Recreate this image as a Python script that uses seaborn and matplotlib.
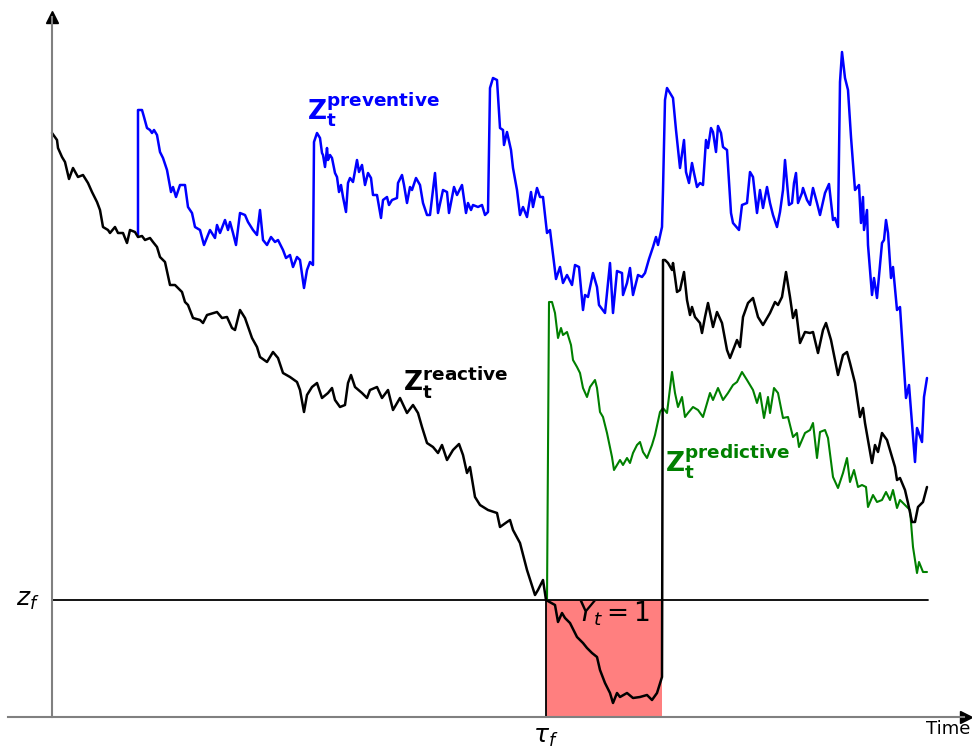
import numpy as np
import pandas as pd
import matplotlib
matplotlib.use('Agg')
import matplotlib.pyplot as plt
import seaborn as sns

# Paths (time, value); z_f threshold and tau_f
Z_F = 117
TAU_F = 494
T_JUMP = 610
T_END = 876

reactive_t = [0, 5, 6, 10, 13, 17, 21, 26, 31, 36, 40, 45, 48, 51, 56, 58, 63, 66, 71, 75,
              78, 83, 86, 90, 93, 98, 101, 105, 108, 113, 118, 123, 130, 133, 136, 141, 148, 151, 155, 165,
              170, 175, 180, 183, 188, 193, 200, 205, 208, 215, 221, 226, 231, 238, 245, 248, 252, 255, 260, 265,
              270, 276, 280, 283, 288, 293, 296, 299, 303, 310, 315, 318, 325, 330, 336, 341, 348, 355, 361, 366,
              370, 375, 381, 386, 390, 395, 401, 407, 411, 415, 418, 423, 428, 436, 445, 448, 455, 458, 461, 468,
              475, 483, 486, 491, 494, 503, 506, 510, 513, 518, 525, 531, 535, 540, 545, 548, 553, 558, 561, 565,
              568, 575, 581, 588, 595, 600, 605, 609, 610, 611, 613, 616, 620, 621, 623, 625, 628, 632, 635, 638,
              640, 643, 648, 650, 653, 656, 661, 665, 670, 675, 678, 685, 688, 691, 696, 701, 706, 711, 718, 723,
              726, 730, 734, 738, 741, 744, 748, 753, 758, 761, 766, 771, 774, 779, 786, 791, 795, 798, 803, 808,
              811, 813, 820, 823, 826, 830, 835, 840, 843, 845, 848, 853, 856, 860, 863, 866, 871, 875]
reactive_v = [584, 577, 569, 560, 555, 538, 549, 540, 542, 534, 525, 515, 507, 490, 487, 484, 490, 484, 484, 474,
              487, 485, 480, 481, 477, 479, 475, 470, 460, 455, 432, 432, 425, 415, 412, 399, 397, 394, 402, 405,
              399, 400, 389, 387, 407, 399, 379, 370, 360, 355, 365, 359, 344, 340, 335, 327, 305, 322, 330, 334,
              319, 324, 329, 317, 310, 312, 334, 342, 330, 324, 319, 327, 330, 319, 327, 307, 319, 304, 312, 304,
              290, 274, 270, 264, 272, 257, 267, 273, 262, 244, 250, 220, 212, 207, 204, 190, 195, 197, 187, 174,
              147, 122, 127, 137, 117, 112, 95, 104, 99, 94, 80, 74, 69, 64, 60, 47, 34, 24, 14, 24,
              20, 24, 19, 20, 22, 17, 24, 37, 40, 457, 457, 454, 447, 454, 440, 425, 427, 445, 417, 402,
              410, 400, 394, 384, 400, 414, 390, 405, 394, 367, 359, 377, 370, 400, 414, 419, 400, 392, 404, 415,
              412, 420, 445, 420, 399, 407, 374, 385, 384, 385, 364, 387, 394, 377, 342, 362, 365, 354, 334, 300,
              309, 294, 254, 272, 265, 284, 277, 260, 250, 237, 239, 227, 214, 195, 195, 210, 215, 230]

preventive_t = [86, 86, 90, 92, 95, 98, 100, 102, 105, 108, 111, 115, 119, 121, 124, 128, 133, 136, 140, 143,
                148, 152, 158, 163, 165, 168, 173, 176, 178, 181, 184, 188, 193, 196, 201, 205, 208, 211, 215, 219,
                223, 226, 231, 234, 238, 241, 245, 248, 252, 255, 258, 261, 262, 265, 268, 270, 271, 273, 275, 276,
                278, 280, 283, 285, 287, 289, 291, 294, 296, 298, 301, 305, 307, 310, 313, 316, 319, 321, 325, 329,
                331, 335, 337, 340, 345, 346, 350, 352, 355, 358, 360, 364, 368, 371, 375, 378, 383, 386, 391, 395,
                397, 402, 405, 410, 414, 416, 419, 421, 426, 430, 433, 436, 438, 441, 445, 448, 451, 452, 455, 459,
                461, 465, 468, 471, 475, 479, 481, 485, 488, 491, 495, 498, 504, 508, 511, 515, 520, 523, 527, 531,
                533, 536, 541, 545, 547, 553, 558, 561, 565, 570, 571, 575, 578, 581, 586, 590, 593, 597, 601, 604,
                606, 610, 611, 613, 615, 618, 621, 624, 628, 632, 634, 637, 640, 642, 645, 648, 651, 654, 656, 659,
                661, 664, 666, 669, 671, 675, 679, 681, 687, 690, 695, 698, 701, 705, 708, 711, 715, 718, 721, 725,
                728, 731, 733, 735, 737, 740, 742, 744, 746, 750, 751, 755, 758, 761, 765, 768, 773, 777, 781, 783,
                786, 788, 790, 793, 796, 799, 803, 807, 809, 811, 812, 815, 816, 820, 822, 825, 830, 832, 834, 836,
                839, 841, 845, 848, 854, 857, 863, 865, 870, 872, 875]
preventive_v = [482, 607, 607, 600, 589, 587, 584, 587, 582, 565, 559, 547, 525, 530, 520, 532, 532, 510, 504, 490,
                487, 472, 487, 479, 492, 484, 497, 487, 495, 484, 472, 504, 502, 495, 487, 482, 507, 477, 472, 480,
                475, 477, 467, 459, 462, 450, 460, 457, 429, 447, 455, 452, 575, 584, 579, 564, 562, 550, 569, 557,
                562, 559, 544, 540, 525, 532, 520, 505, 534, 539, 535, 557, 545, 552, 532, 544, 539, 522, 522, 499,
                517, 520, 512, 517, 519, 534, 542, 532, 514, 530, 527, 539, 532, 514, 502, 502, 544, 504, 527, 525,
                504, 530, 522, 532, 504, 514, 507, 512, 510, 512, 502, 505, 629, 639, 637, 589, 587, 572, 585, 567,
                549, 527, 502, 510, 500, 525, 510, 529, 520, 520, 484, 487, 438, 450, 434, 442, 432, 452, 450, 407,
                422, 420, 444, 430, 412, 404, 454, 404, 446, 444, 422, 434, 449, 422, 442, 440, 444, 458, 470, 480,
                472, 490, 527, 617, 629, 624, 619, 587, 549, 577, 545, 534, 554, 544, 530, 534, 532, 577, 569, 589,
                585, 565, 591, 584, 570, 567, 504, 494, 487, 512, 514, 545, 540, 504, 527, 509, 530, 514, 502, 490,
                505, 527, 557, 534, 512, 514, 534, 544, 514, 524, 529, 517, 512, 529, 514, 502, 524, 533, 497, 499,
                490, 635, 665, 639, 627, 580, 527, 532, 494, 520, 487, 507, 472, 422, 439, 419, 474, 477, 497, 484,
                439, 450, 407, 410, 319, 332, 255, 289, 275, 320, 339]

predictive_t = [495, 497, 500, 503, 506, 509, 511, 515, 519, 521, 525, 528, 531, 535, 538, 543, 545, 548, 551, 555,
                560, 562, 568, 571, 575, 578, 581, 585, 588, 591, 595, 600, 603, 608, 611, 615, 620, 623, 626, 630,
                633, 636, 641, 646, 651, 658, 661, 666, 671, 676, 681, 685, 690, 695, 701, 705, 708, 712, 716, 718,
                722, 726, 731, 736, 741, 745, 747, 753, 758, 761, 765, 768, 773, 776, 781, 786, 791, 795, 798, 802,
                806, 810, 814, 816, 821, 825, 830, 834, 838, 841, 845, 848, 855, 858, 861, 865, 867, 871, 875]
predictive_v = [117, 415, 415, 404, 379, 389, 382, 385, 372, 357, 350, 344, 329, 320, 330, 337, 329, 305, 300, 284,
                260, 247, 257, 252, 259, 254, 264, 272, 275, 265, 259, 272, 282, 305, 309, 304, 345, 324, 310, 320,
                300, 304, 310, 307, 300, 324, 317, 329, 317, 324, 332, 335, 345, 337, 327, 314, 324, 299, 320, 304,
                329, 324, 299, 300, 280, 284, 270, 284, 287, 294, 259, 285, 287, 279, 240, 229, 244, 259, 235, 247,
                230, 232, 230, 210, 222, 215, 217, 225, 217, 227, 209, 217, 210, 207, 170, 144, 155, 145, 145]

reactive = pd.DataFrame({'time': reactive_t, 'value': reactive_v})
preventive = pd.DataFrame({'time': preventive_t, 'value': preventive_v})
predictive = pd.DataFrame({'time': predictive_t, 'value': predictive_v})

sns.set_style('white')
plt.rcParams['text.color'] = 'black'
fig = plt.figure(figsize=(9.72, 7.49), dpi=100)
ax = fig.add_axes([0, 0, 1, 1])

# failure region Y_t = 1
ax.fill_between([TAU_F, T_JUMP], 0, Z_F, color='red', alpha=0.5, lw=0)
ax.plot([TAU_F, TAU_F], [0, Z_F], color='black', lw=1.3)
ax.plot([0, T_END], [Z_F, Z_F], color='black', lw=1.3)

sns.lineplot(data=preventive, x='time', y='value', color='blue', lw=1.8,
             estimator=None, sort=False, ax=ax)
sns.lineplot(data=predictive, x='time', y='value', color='green', lw=1.5,
             estimator=None, sort=False, ax=ax)
sns.lineplot(data=reactive, x='time', y='value', color='black', lw=1.8,
             estimator=None, sort=False, ax=ax)

ax.set_xlim(-52, 920)
ax.set_ylim(-32, 717)
ax.set_xlabel('')
ax.set_ylabel('')
ax.set_xticks([])
ax.set_yticks([])
for side in ['top', 'right']:
    ax.spines[side].set_visible(False)
ax.spines['left'].set_position(('data', 0))
ax.spines['bottom'].set_position(('data', 0))
ax.spines['left'].set_bounds(0, 700)
ax.spines['bottom'].set_bounds(-44, 912)
for side in ['left', 'bottom']:
    ax.spines[side].set_color('#808080')
    ax.spines[side].set_linewidth(1.5)
ax.plot(0, 700, marker='^', color='black', ms=9, clip_on=False)
ax.plot(914, 0, marker='>', color='black', ms=9, clip_on=False)

ax.text(255, 607, r'$\mathbf{Z}_{\mathbf{t}}^{\mathbf{preventive}}$', color='blue',
        fontsize=19, ha='left', va='center')
ax.text(351, 335, r'$\mathbf{Z}_{\mathbf{t}}^{\mathbf{reactive}}$', color='black',
        fontsize=19, ha='left', va='center')
ax.text(613, 255, r'$\mathbf{Z}_{\mathbf{t}}^{\mathbf{predictive}}$', color='green',
        fontsize=19, ha='left', va='center')
ax.text(561, 103, r'$Y_t = 1$', color='black', fontsize=19, ha='center', va='center')
ax.text(-12, 117, r'$z_f$', color='black', fontsize=18, ha='right', va='center')
ax.text(TAU_F, -20, r'$\tau_f$', color='black', fontsize=18, ha='center', va='center')
ax.text(896, -12, 'Time', color='black', fontsize=13, ha='center', va='center')

fig.savefig('out.png', dpi=100)
